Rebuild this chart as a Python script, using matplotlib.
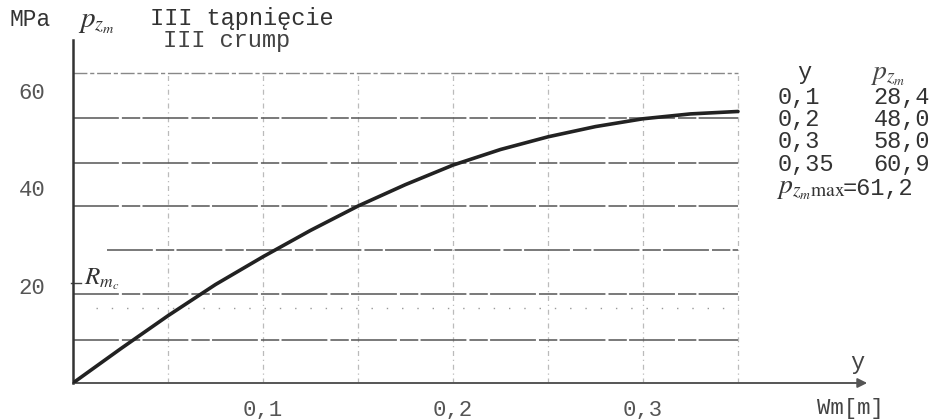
import matplotlib
matplotlib.use("Agg")
import matplotlib.pyplot as plt

# curve p_zm vs wm
wm = [0, 0.025, 0.05, 0.075, 0.1, 0.125, 0.15, 0.175, 0.2, 0.225, 0.25, 0.275, 0.3, 0.325, 0.35]
p_zm = [0, 7.0, 13.8, 20.2, 25.9, 31.3, 36.3, 40.7, 44.7, 47.9, 50.5, 52.6, 54.2, 55.2, 55.7]

# grid lines as drawn in the original
hlines_solid = [54.4, 45.1, 36.3, 27.3, 18.3, 8.8]
hline_top = 63.6
hline_dotted = 15.4
vlines = [0.05, 0.1, 0.15, 0.2, 0.25, 0.3, 0.35]

xticks = [0.1, 0.2, 0.3]
xtick_labels = ["0,1", "0,2", "0,3"]
yticks = [20, 40, 60]
ytick_labels = ["20", "40", "60"]

# side table
table_y = ["0,1", "0,2", "0,3", "0,35"]
table_p = ["28,4", "48,0", "58,0", "60,9"]
p_max = "61,2"

plt.rcParams["mathtext.fontset"] = "stix"
MONO = "Liberation Mono"
W, H = 939, 419

fig = plt.figure(figsize=(W / 100, H / 100), dpi=100)
fig.patch.set_facecolor("white")
ax = fig.add_axes([73 / W, 36 / H, 855 / W, 343 / H])
ax.set_xlim(0, 0.45)
ax.set_ylim(0, 70.36)
ax.set_facecolor("white")

for s in ["top", "right", "bottom"]:
    ax.spines[s].set_visible(False)
ax.spines["left"].set_color("#333333")
ax.spines["left"].set_linewidth(1.8)

# grid
for v in vlines:
    ax.plot([v, v], [0, hline_top], color="#bbbbbb", lw=0.9, ls=(0, (4, 3, 1, 3)), zorder=1)
ax.plot([0, 0.35], [hline_top, hline_top], color="#888888", lw=1.0, ls=(0, (10, 2, 3, 2)), zorder=1)
for h in hlines_solid:
    x0 = 0.018 if h == 27.3 else 0
    ax.plot([x0, 0.35], [h, h], color="#555555", lw=1.1, ls=(0, (30, 2, 12, 1.5)), zorder=1)
ax.plot([0.012, 0.35], [hline_dotted, hline_dotted], color="#999999", lw=1.0,
        ls=(0, (1, 10)), zorder=1)

# x axis arrow
ax.annotate("", xy=(0.418, 0), xytext=(0, 0),
            arrowprops=dict(arrowstyle="-|>", color="#555555", lw=1.4,
                            mutation_scale=14, shrinkA=0, shrinkB=0),
            annotation_clip=False, zorder=2)

# curve
ax.plot(wm, p_zm, color="#222222", lw=2.6, solid_capstyle="round",
        solid_joinstyle="round", zorder=3)

ax.set_xticks(xticks)
ax.set_xticklabels(xtick_labels, family=MONO, fontsize=16, color="#555555")
ax.set_yticks(yticks)
ax.set_yticklabels(ytick_labels, family=MONO, fontsize=16, color="#555555")
ax.tick_params(axis="x", length=0, pad=12)
ax.tick_params(axis="y", length=0, pad=20)

# R_m mark
ax.plot([-0.001, 0.004], [20.5, 20.5], color="#444444", lw=1.0, clip_on=False)
ax.text(0.006, 21.2, r"$R_{m_c}$", fontsize=18, color="#333333", va="center", ha="left")


def ftext(px, py, s, **kw):
    fig.text(px / W, 1 - py / H, s, **kw)


ftext(30, 20, "MPa", family=MONO, fontsize=16.5, color="#333333", ha="center", va="center")
ftext(96, 22, r"$p_{z_m}$", fontsize=21, color="#333333", ha="center", va="center")
ftext(150, 18, "III tąpnięcie", family=MONO, fontsize=17, color="#333333", ha="left", va="center")
ftext(163, 41, "III crump", family=MONO, fontsize=17, color="#444444", ha="left", va="center")

# table
ftext(804, 73, "y", family=MONO, fontsize=17, color="#333333", ha="center", va="center")
ftext(888, 74, r"$p_{z_m}$", fontsize=20, color="#444444", ha="center", va="center")
for i, (a, b) in enumerate(zip(table_y, table_p)):
    py = 97 + i * 22.5
    ftext(778, py, a, family=MONO, fontsize=17, color="#333333", ha="left", va="center")
    ftext(930, py, b, family=MONO, fontsize=17, color="#333333", ha="right", va="center")
ftext(845, 188, r"$p_{z_m\mathrm{max}}$", fontsize=20, color="#333333", ha="right", va="center")
ftext(843, 188, "=" + p_max, family=MONO, fontsize=17, color="#333333", ha="left", va="center")

# axis labels
ftext(857, 362, "y", family=MONO, fontsize=17, color="#444444", ha="center", va="center")
ftext(850, 408, "Wm[m]", family=MONO, fontsize=16, color="#444444", ha="center", va="center")

fig.savefig("out.png", dpi=100, facecolor="white")
